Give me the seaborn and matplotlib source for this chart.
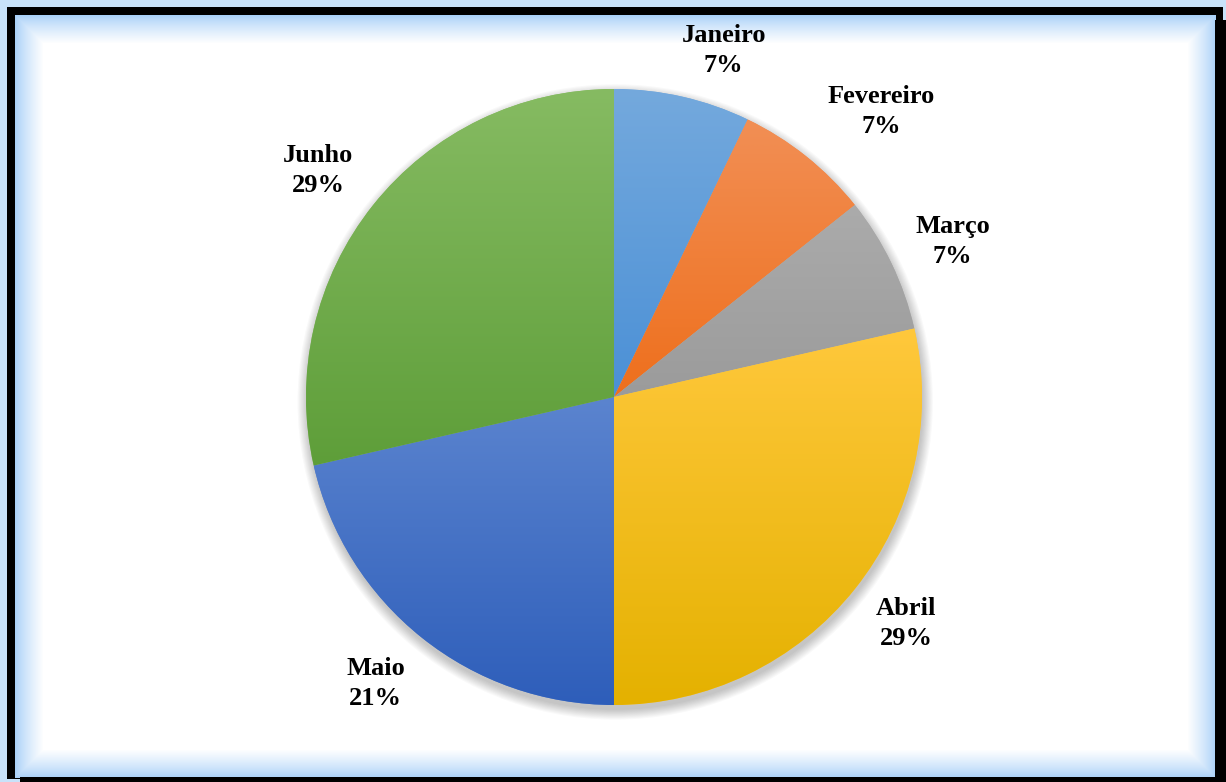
import numpy as np
import matplotlib
matplotlib.use("Agg")
import matplotlib.pyplot as plt
import seaborn as sns
from matplotlib.colors import to_rgb
from matplotlib.patches import Circle

# Monthly share data
months = ["Janeiro", "Fevereiro", "Março", "Abril", "Maio", "Junho"]
counts = [1, 1, 1, 4, 3, 4]

# Slice colours: lighter tone at the top, deeper tone at the bottom
top_colors = ["#74a9dd", "#f28f55", "#ababab", "#ffc83c", "#5b84cf", "#86bb62"]
bottom_colors = ["#4b90d6", "#ee6f1c", "#9b9b9b", "#e4b100", "#2e5eba", "#5e9e39"]

sns.set_theme(style="white")
plt.rcParams["font.family"] = ["Liberation Serif", "DejaVu Serif"]

W, H = 1226, 782
fig = plt.figure(figsize=(W / 100, H / 100), dpi=100)

# ---- framed background with soft blue inner glow ----
bg = fig.add_axes([0, 0, 1, 1])
bg.set_axis_off()
yy, xx = np.mgrid[0:H, 0:W]
img = np.ones((H, W, 3))
glow = np.array([168, 208, 248]) / 255.0
outer = np.array([200, 226, 250]) / 255.0
x0, x1, y0, y1 = 15, 1215, 15, 777
d = np.minimum.reduce([xx - x0, x1 - xx, yy - y0, y1 - yy]).astype(float)
t = np.clip(d / 28.0, 0, 1) ** 0.8
inner = glow[None, None, :] * (1 - t[..., None]) + t[..., None]
img[:] = inner
outside = d < 0
img[outside] = outer
frame = ((xx >= 7) & (xx < 1223) & (yy >= 7) & (yy < 779)) & outside
img[frame] = 0
shadow = ((xx >= 1215) & (yy >= 20)) | ((yy >= 777) & (xx >= 20))
img[shadow] = 0
bg.imshow(img, extent=(0, W, H, 0), aspect="auto", interpolation="bilinear")
bg.set_xlim(0, W)
bg.set_ylim(H, 0)

# ---- pie ----
cx, cy, R = 614, 397, 308
ax = fig.add_axes([0, 0, 1, 1])
ax.set_axis_off()
ax.patch.set_alpha(0)

# soft drop shadow under the pie
for k in range(10):
    ax.add_patch(Circle((0.004, -0.016), 1.0 + 0.0035 * k, facecolor="black",
                        alpha=0.025, linewidth=0, zorder=0))

wedges, _ = ax.pie(counts, startangle=90, counterclock=False, radius=1,
                   colors=top_colors, center=(0, 0), frame=False,
                   wedgeprops=dict(linewidth=0))

# vertical gradient fill clipped to each slice
for w, c_top, c_bot in zip(wedges, top_colors, bottom_colors):
    ext = w.get_path().get_extents()
    ct, cb = np.array(to_rgb(c_top)), np.array(to_rgb(c_bot))
    s = np.linspace(0, 1, 256)[:, None]
    grad = ct[None, :] * (1 - s) + cb[None, :] * s
    grad = np.repeat(grad[:, None, :], 2, axis=1)
    im = ax.imshow(grad, extent=(ext.x0, ext.x1, ext.y0, ext.y1), origin="upper",
                   aspect="auto", zorder=w.get_zorder() + 0.1, interpolation="bilinear")
    im.set_clip_path(w)

ax.set_aspect("auto")
ax.set_xlim(-cx / R, (W - cx) / R)
ax.set_ylim(-(H - cy) / R, cy / R)

# data labels
total = sum(counts)
label_radius = [1.18, 1.27, 1.21, 1.20, 1.21, 1.21]
label_shift = [-4.7, -4.5, -1.0, 0.8, -1.2, 1.1]
for w, name, v, lr, sh in zip(wedges, months, counts, label_radius, label_shift):
    mid = np.deg2rad((w.theta1 + w.theta2) / 2 + sh)
    pct = round(100 * v / total)
    ax.text(lr * np.cos(mid), lr * np.sin(mid), f"{name}\n{pct}%",
            ha="center", va="center", fontsize=19, fontweight="bold",
            color="black", linespacing=1.4, zorder=10)

fig.savefig("out.png", dpi=100)
